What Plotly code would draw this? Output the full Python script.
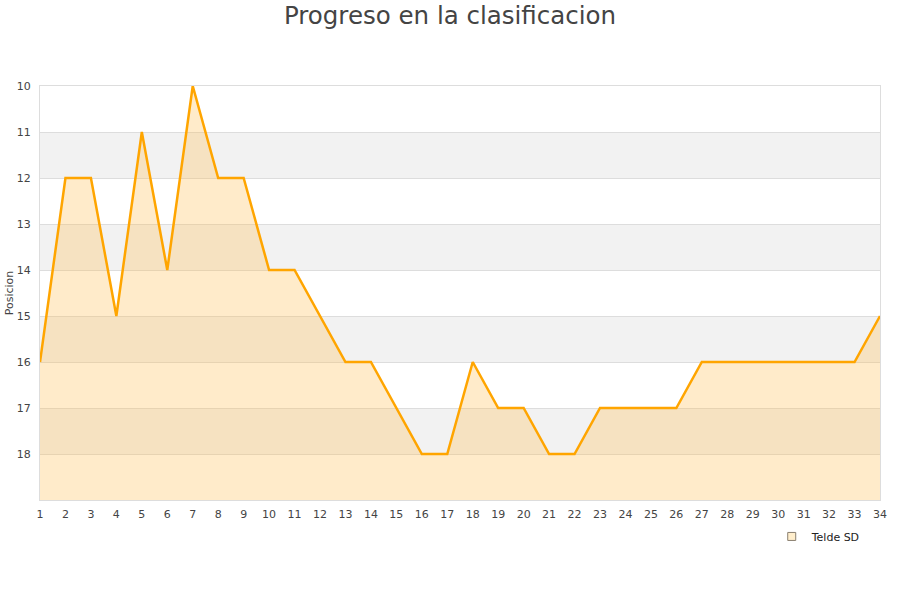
import plotly.graph_objects as go

jornadas = list(range(1, 35))
posiciones = [16, 12, 12, 15, 11, 14, 10, 12, 12, 14, 14, 15, 16, 16, 17, 18, 18,
              16, 17, 17, 18, 18, 17, 17, 17, 17, 16, 16, 16, 16, 16, 16, 16, 15]
team = "Telde SD"
y_ticks = list(range(10, 19))

fig = go.Figure()
fig.add_trace(go.Scatter(x=jornadas, y=[19] * len(jornadas), mode="lines",
                         line=dict(width=0), showlegend=False, hoverinfo="skip"))
fig.add_trace(go.Scatter(x=jornadas, y=posiciones, mode="lines", name=team,
                         line=dict(color="#FFA500", width=2.5), showlegend=False,
                         fill="tonexty", fillcolor="rgba(255,190,80,0.3)"))
fig.add_trace(go.Scatter(x=[None], y=[None], mode="markers", name=team,
                         marker=dict(symbol="square", size=8, color="#FFEECC",
                                     line=dict(color="#8A7F70", width=1))))

shapes = []
for lo in [11, 13, 15, 17]:
    shapes.append(dict(type="rect", xref="paper", yref="y", x0=0, x1=1, y0=lo, y1=lo + 1,
                       fillcolor="#F2F2F2", line=dict(width=0), layer="below"))

fig.update_layout(
    width=900, height=600,
    paper_bgcolor="white", plot_bgcolor="white",
    margin=dict(l=40, r=20, t=86, b=100, autoexpand=False),
    title=dict(text="Progreso en la clasificacion", x=0.5, xanchor="center", y=0.975,
               yanchor="middle", font=dict(family="DejaVu Sans", size=24.5, color="#444")),
    font=dict(family="DejaVu Sans", size=11, color="#444"),
    shapes=shapes,
    showlegend=True,
    legend=dict(x=0.983, xanchor="right", y=-0.053, yanchor="top", bgcolor="rgba(0,0,0,0)",
                font=dict(size=11, color="#222")),
    xaxis=dict(range=[1, 34], tickmode="array", tickvals=jornadas, showgrid=False,
               showline=True, linecolor="#DDDDDD", mirror=True, zeroline=False,
               automargin=False, ticks="", ticklabelstandoff=4,
               tickfont=dict(size=11, color="#444")),
    yaxis=dict(range=[19, 10], tickmode="array", tickvals=y_ticks, showgrid=True,
               gridcolor="#DDDDDD", showline=True, linecolor="#DDDDDD", mirror=True,
               zeroline=False, automargin=False, ticks="", ticklabelstandoff=6,
               tickfont=dict(size=11, color="#444"),
               title=dict(text="Posicion", font=dict(size=11, color="#444"), standoff=0)),
)

fig.write_html("out.html", config={"displayModeBar": False},
               post_script="document.body.style.margin='0';")
